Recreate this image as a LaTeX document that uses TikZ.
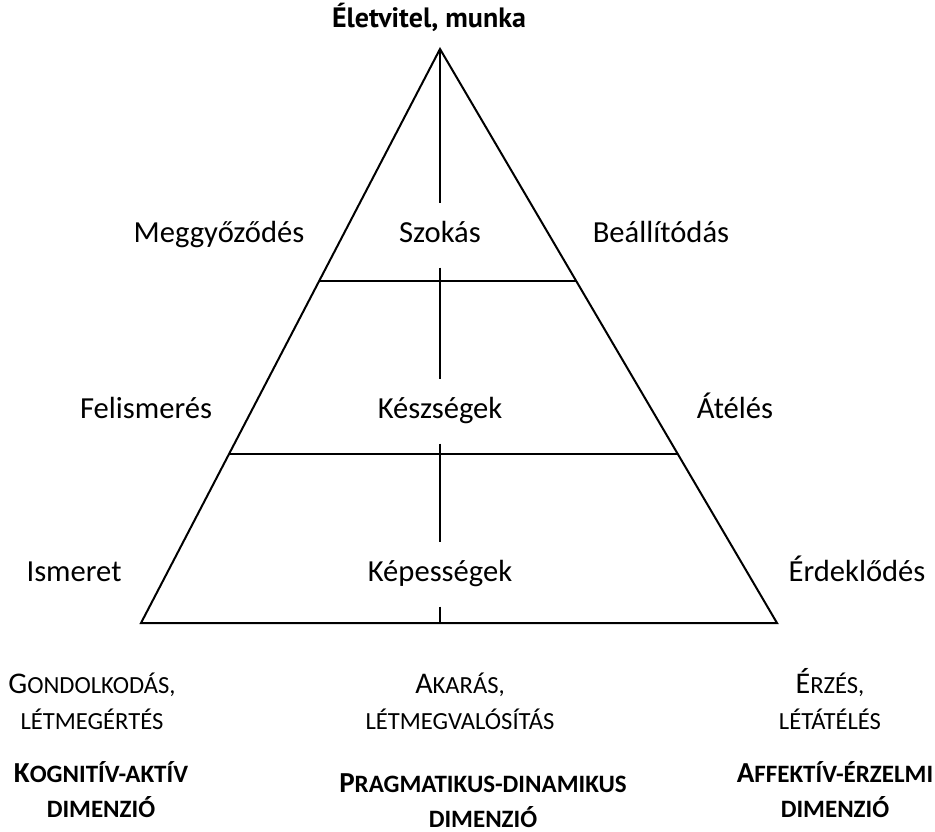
\documentclass[tikz,border=0pt]{standalone}
\usepackage{fontspec}
\setmainfont{Carlito}
\newfontfamily\titlefont{PT Sans}
\usetikzlibrary{calc}
\newcommand{\kis}[1]{{\fontsize{12.3}{14}\selectfont #1}}
\newcommand{\kisb}[1]{{\fontsize{12.5}{14}\selectfont #1}}

\begin{document}
\begin{tikzpicture}[
    x=0.5pt, y=-0.5pt,
    font=\fontsize{15.3}{18}\selectfont,
    edge/.style={line width=1pt},
    level/.style={inner sep=0pt, outer sep=0pt, minimum height=32.5pt,
                  text height=11pt, text depth=4pt},
    side/.style={anchor=base, inner sep=0pt},
    dim/.style={anchor=base, inner sep=0pt, align=center,
                font=\fontsize{15}{18}\selectfont},
    dimb/.style={dim, font=\bfseries\fontsize{14.5}{17.5}\selectfont},
  ]
  \useasboundingbox (0,0) rectangle (935,831);

  % pyramid
  \coordinate (apex) at (440,49);
  \coordinate (bl) at (141,623);
  \coordinate (br) at (777,623);
  \coordinate (bm) at (440,623);
  \coordinate (h1l) at ($(bl)!0.596!(apex)$);
  \coordinate (h1r) at ($(br)!0.596!(apex)$);
  \coordinate (h2l) at ($(bl)!0.294!(apex)$);
  \coordinate (h2r) at ($(br)!0.294!(apex)$);
  \draw[edge] (bl) -- (apex) -- (br) -- cycle;
  \draw[edge] (h1l) -- (h1r);
  \draw[edge] (h2l) -- (h2r);

  \node[side, font={\titlefont\bfseries\fontsize{14}{17}\selectfont}] (title) at (429,27) {Életvitel, munka};

  \node[level] (szokas) at (440,235) {Szokás};
  \node[level] (keszseg) at (440,411) {Készségek};
  \node[level] (kepesseg) at (440,574) {Képességek};
  \draw[edge] (apex) -- (szokas);
  \draw[edge] (szokas) -- (keszseg);
  \draw[edge] (keszseg) -- (kepesseg);
  \draw[edge] (kepesseg) -- (bm);

  % side labels
  \node[side] (meggy) at (219,242) {Meggyőződés};
  \node[side] (beall) at (661,242) {Beállítódás};
  \node[side] (felism) at (146,418) {Felismerés};
  \node[side] (atel) at (735,418) {Átélés};
  \node[side] (ism) at (74,581) {Ismeret};
  \node[side] (erdek) at (857,581) {Érdeklődés};

  % dimensions
  \node[dim] (gond) at (92,729) {G\kis{ONDOLKODÁS,}\\ \kis{LÉTMEGÉRTÉS}};
  \node[dim] (akar) at (460,729) {A\kis{KARÁS,}\\ \kis{LÉTMEGVALÓSÍTÁS}};
  \node[dim] (erz) at (830,729) {É\kis{RZÉS,}\\ \kis{LÉTÁTÉLÉS}};
  \node[dimb] (kogn) at (101,817) {K\kisb{OGNITÍV-AKTÍV}\\ \kisb{DIMENZIÓ}};
  \node[dimb] (prag) at (483,827) {P\kisb{RAGMATIKUS-DINAMIKUS}\\ \kisb{DIMENZIÓ}};
  \node[dimb] (affekt) at (835,817) {A\kisb{FFEKTÍV-ÉRZELMI}\\ \kisb{DIMENZIÓ}};
\end{tikzpicture}
\end{document}
